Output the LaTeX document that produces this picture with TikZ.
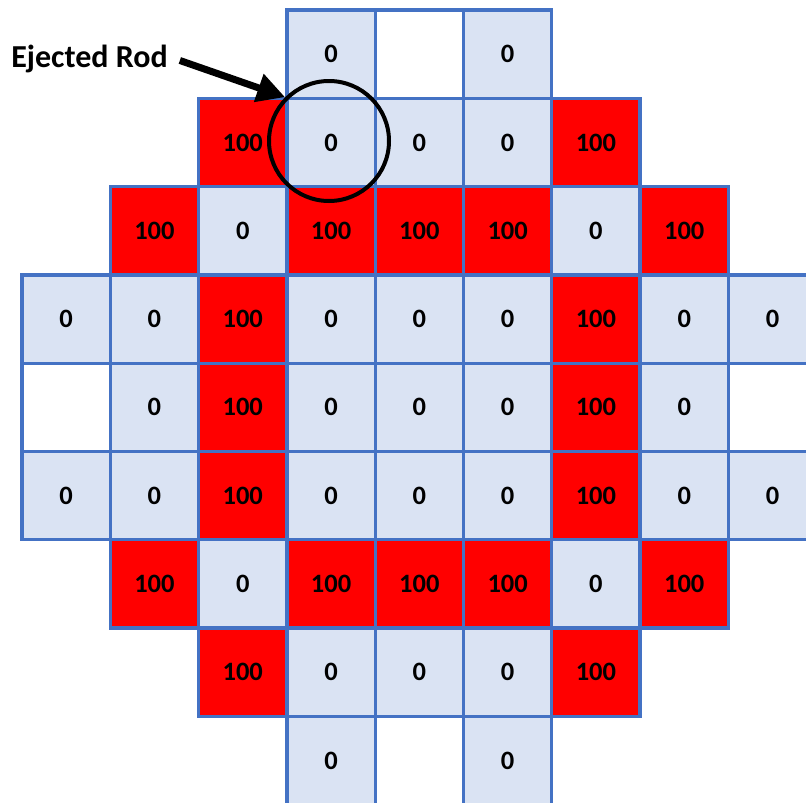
\documentclass[tikz,border=0pt]{standalone}
\usepackage{fontspec}
\setmainfont{Carlito}
\usetikzlibrary{arrows.meta}
\definecolor{gridblue}{HTML}{4472C4}
\definecolor{lightcell}{HTML}{DAE3F3}
\definecolor{hotred}{HTML}{FF0000}
\tikzset{
  cellbase/.style={rectangle, draw=gridblue, line width=3.3pt, minimum width=88.3pt, minimum height=88.3pt, inner sep=0pt, outer sep=0pt, font=\fontsize{26.5}{28}\selectfont\bfseries},
  lcell/.style={cellbase, fill=lightcell},
  rcell/.style={cellbase, fill=hotred},
  wcell/.style={cellbase, fill=white},
}
\newcommand\rodcell[4]{\node[#3] (c#1-#2) at ({22+88.3*(#1-0.5)},{10+88.3*(#2-0.5)}) {\raisebox{-2pt}{#4}};}
\begin{document}
\begin{tikzpicture}[x=1pt,y=-1pt]
\useasboundingbox (0,0) rectangle (806,803);
% row 1
\rodcell{4}{1}{lcell}{0}\rodcell{5}{1}{wcell}{}\rodcell{6}{1}{lcell}{0}
% row 2
\rodcell{3}{2}{rcell}{100}\rodcell{4}{2}{lcell}{0}\rodcell{5}{2}{lcell}{0}\rodcell{6}{2}{lcell}{0}\rodcell{7}{2}{rcell}{100}
% row 3
\rodcell{2}{3}{rcell}{100}\rodcell{3}{3}{lcell}{0}\rodcell{4}{3}{rcell}{100}\rodcell{5}{3}{rcell}{100}\rodcell{6}{3}{rcell}{100}\rodcell{7}{3}{lcell}{0}\rodcell{8}{3}{rcell}{100}
% row 4
\rodcell{1}{4}{lcell}{0}\rodcell{2}{4}{lcell}{0}\rodcell{3}{4}{rcell}{100}\rodcell{4}{4}{lcell}{0}\rodcell{5}{4}{lcell}{0}\rodcell{6}{4}{lcell}{0}\rodcell{7}{4}{rcell}{100}\rodcell{8}{4}{lcell}{0}\rodcell{9}{4}{lcell}{0}
% row 5
\rodcell{1}{5}{wcell}{}\rodcell{2}{5}{lcell}{0}\rodcell{3}{5}{rcell}{100}\rodcell{4}{5}{lcell}{0}\rodcell{5}{5}{lcell}{0}\rodcell{6}{5}{lcell}{0}\rodcell{7}{5}{rcell}{100}\rodcell{8}{5}{lcell}{0}\rodcell{9}{5}{wcell}{}
% row 6
\rodcell{1}{6}{lcell}{0}\rodcell{2}{6}{lcell}{0}\rodcell{3}{6}{rcell}{100}\rodcell{4}{6}{lcell}{0}\rodcell{5}{6}{lcell}{0}\rodcell{6}{6}{lcell}{0}\rodcell{7}{6}{rcell}{100}\rodcell{8}{6}{lcell}{0}\rodcell{9}{6}{lcell}{0}
% row 7
\rodcell{2}{7}{rcell}{100}\rodcell{3}{7}{lcell}{0}\rodcell{4}{7}{rcell}{100}\rodcell{5}{7}{rcell}{100}\rodcell{6}{7}{rcell}{100}\rodcell{7}{7}{lcell}{0}\rodcell{8}{7}{rcell}{100}
% row 8
\rodcell{3}{8}{rcell}{100}\rodcell{4}{8}{lcell}{0}\rodcell{5}{8}{lcell}{0}\rodcell{6}{8}{lcell}{0}\rodcell{7}{8}{rcell}{100}
% row 9
\rodcell{4}{9}{lcell}{0}\rodcell{5}{9}{wcell}{}\rodcell{6}{9}{lcell}{0}
% ejected rod marker
\node[circle, draw=black, line width=4pt, minimum size=120pt, inner sep=0pt] (ring) at (329,141) {};
\node[anchor=base, inner sep=0pt, font=\fontsize{32}{34}\selectfont\bfseries] (label) at (89.5,67) {Ejected Rod};
\draw[line width=7pt, -{Triangle[length=28pt,width=28pt]}] ([xshift=12pt,yshift=-2pt]label.east) -- (ring.135);
\end{tikzpicture}
\end{document}
